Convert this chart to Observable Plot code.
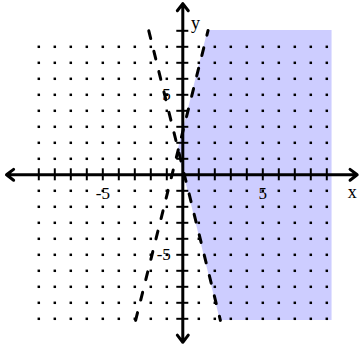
<!DOCTYPE html>
<html>
<head>
<meta charset="utf-8">
<script src="https://cdn.jsdelivr.net/npm/d3@7"></script>
<script src="https://cdn.jsdelivr.net/npm/@observablehq/plot@0.6"></script>
<style>
  html, body { margin: 0; padding: 0; background: #fff; }
</style>
</head>
<body>
<div id="chart"></div>
<script>
// grid dot positions
const xDots = [-9, -8, -7, -6, -5, -4, -3, -2, -1, 1, 2, 3, 4, 5, 6, 7, 8, 9];
const yDots = [-9, -8, -7, -6, -5, -4, -3, -2, -1, 1, 2, 3, 4, 5, 6, 7, 8];
// axis tick positions
const xTicks = [-9, -8, -7, -6, -5, -4, -3, -2, -1, 1, 2, 3, 4, 5, 6, 7, 8, 9];
const yTicks = [-9, -8, -7, -6, -5, -4, -3, -2, -1, 1, 2, 3, 4, 5, 6, 7, 8, 9];
// tick labels
const xLabels = [{v: -5, t: "-5"}, {v: 5, t: "5"}];
const yLabels = [{v: 5, t: "5"}, {v: -5, t: "-5"}];
// dashed boundary lines (endpoints)
const line1 = [{x: -2.95, y: -9.1}, {x: 1.58, y: 9.02}];
const line2 = [{x: -2.125, y: 9.0}, {x: 2.35, y: -9.1}];
// shaded region: left boundary x1 at each y, right edge x2
const shadeY  = [-9.1, 1.5, 9.02];
const shadeX1 = [2.35, -0.3, 1.58];
const shadeX2 = [9.33, 9.33, 9.33];
// axis extents (arrow tips)
const xAxisEnds = [-11.02, 10.9];
const yAxisEnds = [-10.47, 10.7];

const shade = shadeY.map((y, i) => ({y, x1: shadeX1[i], x2: shadeX2[i]}));
const dots = xDots.flatMap(x => yDots.map(y => ({x, y})));
const serif = "Liberation Serif, Times New Roman, serif";

const chart = Plot.plot({
  width: 359,
  height: 345,
  marginLeft: 38.3,
  marginRight: 32.7,
  marginTop: 30.3,
  marginBottom: 26.7,
  x: {domain: [-9, 9], axis: null},
  y: {domain: [-9, 9], axis: null},
  style: {background: "#fff", overflow: "visible"},
  marks: [
    Plot.areaX(shade, {y: "y", x1: "x1", x2: "x2", fill: "#cdcdff", curve: "linear"}),
    Plot.dot(dots, {x: "x", y: "y", symbol: "square", r: 1.4, fill: "#000", stroke: null}),
    Plot.line(line1, {x: "x", y: "y", stroke: "#000", strokeWidth: 3, strokeDasharray: "8,13"}),
    Plot.line(line2, {x: "x", y: "y", stroke: "#000", strokeWidth: 3, strokeDasharray: "8,13"}),
    Plot.ruleX(xTicks, {x: d => d, y1: -0.375, y2: 0.375, stroke: "#000", strokeWidth: 2}),
    Plot.ruleY(yTicks, {y: d => d, x1: -0.375, x2: 0.375, stroke: "#000", strokeWidth: 2}),
    Plot.arrow(xAxisEnds, {x1: 0, y1: 0, x2: d => d, y2: 0, stroke: "#000", strokeWidth: 3, headLength: 4.5, headAngle: 75}),
    Plot.arrow(yAxisEnds, {x1: 0, y1: 0, x2: 0, y2: d => d, stroke: "#000", strokeWidth: 3, headLength: 4.5, headAngle: 75}),
    Plot.text(xLabels, {x: "v", y: 0, text: "t", dy: 19, fontSize: 17, fontFamily: serif, fill: "#000"}),
    Plot.text(yLabels, {x: 0, y: "v", text: "t", dx: -12, textAnchor: "end", fontSize: 17, fontFamily: serif, fill: "#000"}),
    Plot.text(["x"], {x: 10.59, y: -1.1, text: d => d, fontSize: 18, fontFamily: serif, fill: "#000"}),
    Plot.text(["y"], {x: 0.8, y: 9.5, text: d => d, fontSize: 18, fontFamily: serif, fill: "#000"})
  ]
});
document.getElementById("chart").appendChild(chart);
</script>
</body>
</html>
